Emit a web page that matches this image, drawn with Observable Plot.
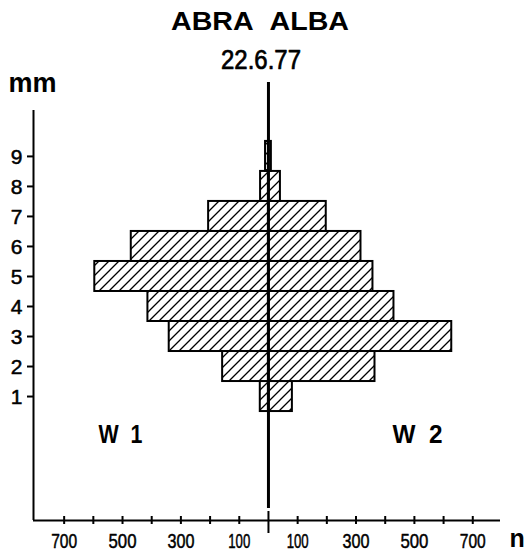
<!DOCTYPE html>
<html><head><meta charset="utf-8">
<script src="https://cdn.jsdelivr.net/npm/d3@7"></script>
<script src="https://cdn.jsdelivr.net/npm/@observablehq/plot@0.6"></script>
<style>
body{margin:0;background:#fff;}
</style></head><body><div id="chart"></div>
<script>
// ---- data ----
const sizesMm = [1, 2, 3, 4, 5, 6, 7, 8, 9];
const countsW1 = [28, 157, 340, 413, 595, 470, 205, 27, 10];
const countsW2 = [82, 365, 628, 430, 358, 317, 198, 41, 10];
const xTickValues = [-700, -600, -500, -400, -300, -200, -100, 100, 200, 300, 400, 500, 600, 700];
const xTickLabels = [-700, -500, -300, -100, 100, 300, 500, 700];
const yTickValues = [1, 2, 3, 4, 5, 6, 7, 8, 9];
const titleText = ["ABRA\u00A0\u00A0ALBA"];
const subtitleText = ["22.6.77"];
const yUnit = ["mm"];
const xUnit = ["n"];
const groupLeft = ["W\u00A0\u00A01"];
const groupRight = ["W\u00A0\u00A02"];

const xDomain = [-805, 795];
const yDomain = [-3.13, 10.53];

const rows = sizesMm.flatMap((s, i) => [
  {mm: s, group: "W 1", n: -countsW1[i]},
  {mm: s, group: "W 2", n: countsW2[i]}
]);

const chart = Plot.plot({
  width: 527,
  height: 553,
  marginLeft: 33,
  marginRight: 27,
  marginTop: 110,
  marginBottom: 33,
  style: {fontFamily: "'Liberation Sans', Arial, sans-serif", color: "black", background: "white"},
  x: {domain: xDomain, axis: null},
  y: {domain: yDomain, axis: null},
  marks: [
    Plot.rect(rows, {
      x1: () => 0, x2: "n",
      y1: d => d.mm - 0.5, y2: d => d.mm + 0.5,
      fill: "url(#hatch)", stroke: "black", strokeWidth: 2
    }),
    // axis lines
    Plot.ruleX([xDomain[0]], {strokeWidth: 2}),
    Plot.ruleY([yDomain[0]], {strokeWidth: 2}),
    // x ticks crossing the axis
    Plot.ruleX(xTickValues, {insetTop: 406, insetBottom: -4, strokeWidth: 2}),
    // center line and its tick
    Plot.ruleX([0], {insetTop: -28, insetBottom: 12, strokeWidth: 3}),
    Plot.ruleX([0], {insetTop: 401, insetBottom: -13, strokeWidth: 2}),
    Plot.text(xTickLabels, {
      x: d => d, text: d => String(Math.abs(d)), frameAnchor: "bottom",
      dy: 13, lineAnchor: "top", fontSize: 21, fill: "black", stroke: "black", strokeWidth: 0.5
    }),
    // y ticks and labels
    Plot.ruleY(yTickValues, {insetLeft: -6, insetRight: 467, strokeWidth: 2}),
    Plot.text(yTickValues, {y: d => d, text: d => String(d), frameAnchor: "left", dx: -11, dy: 1, textAnchor: "end", fontSize: 21, fill: "black", stroke: "black", strokeWidth: 0.5}),
    // labels
    Plot.text(titleText, {text: d => d, frameAnchor: "top", dx: -7, dy: -98, lineAnchor: "top", fontSize: 25, fontWeight: "bold"}),
    Plot.text(subtitleText, {text: d => d, frameAnchor: "top", dx: -6, dy: -61, lineAnchor: "top", fontSize: 27, fill: "black", stroke: "black", strokeWidth: 0.7}),
    Plot.text(yUnit, {text: d => d, frameAnchor: "top-left", dx: -25, dy: -38, lineAnchor: "top", textAnchor: "start", fontSize: 27, fontWeight: "bold"}),
    Plot.text(xUnit, {text: d => d, frameAnchor: "bottom-right", dx: 9, dy: 9, lineAnchor: "top", textAnchor: "start", fontSize: 25, fontWeight: "bold"}),
    Plot.text(groupLeft, {text: d => d, frameAnchor: "bottom-left", dx: 87, dy: -95, lineAnchor: "top", textAnchor: "middle", fontSize: 25, fontWeight: "bold"}),
    Plot.text(groupRight, {text: d => d, frameAnchor: "bottom-right", dx: -83, dy: -95, lineAnchor: "top", textAnchor: "middle", fontSize: 25, fontWeight: "bold"})
  ]
});

// hatch pattern definition
const ns = "http://www.w3.org/2000/svg";
const defs = document.createElementNS(ns, "defs");
defs.innerHTML = `<pattern id="hatch" patternUnits="userSpaceOnUse" width="10" height="10">
  <rect width="10" height="10" fill="white"/>
  <path d="M-1,1 l2,-2 M0,10 l10,-10 M9,11 l2,-2" stroke="black" stroke-width="1.3"/>
</pattern>`;
chart.insertBefore(defs, chart.firstChild);

// fit text widths to the reference lettering (condensed figures, spaced title)
const fitWidths = new Map([
  [titleText[0], 178], [subtitleText[0], 80],
  [groupLeft[0], 44], [groupRight[0], 50],
  ["700", 26], ["500", 28], ["300", 27], ["100", 22]
]);
d3.select(chart).selectAll("text").each(function() {
  const w = fitWidths.get(this.textContent);
  if (w) {
    this.setAttribute("textLength", w);
    this.setAttribute("lengthAdjust", "spacingAndGlyphs");
  }
});
document.getElementById("chart").appendChild(chart);
</script>
</body></html>
